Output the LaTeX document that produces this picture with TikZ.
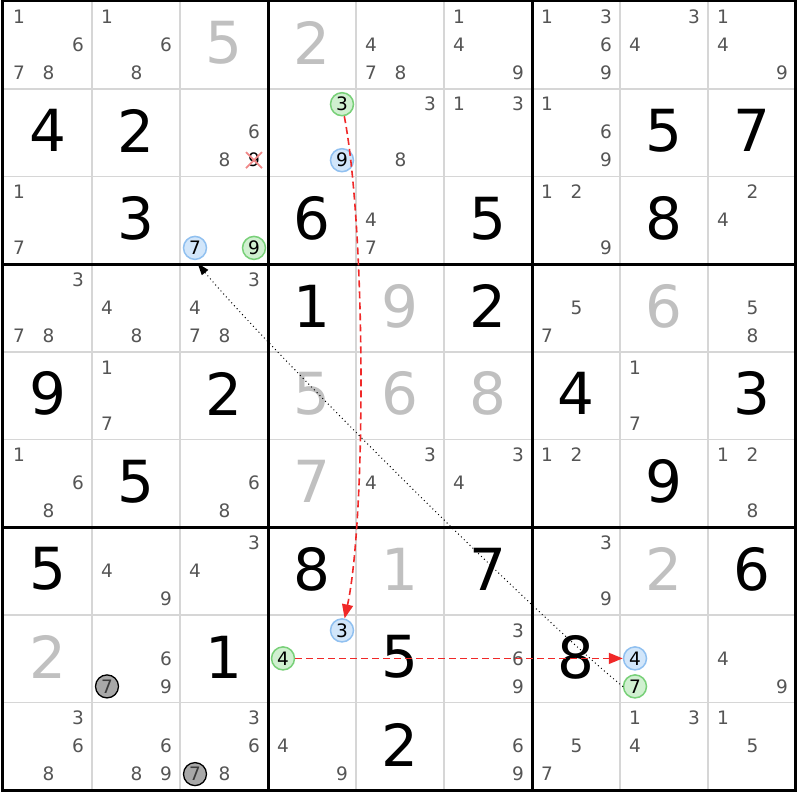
\documentclass[tikz,border=0pt]{standalone}
\usepackage{fontspec}
\setmainfont{DejaVu Sans}
\usetikzlibrary{arrows.meta}
\definecolor{pencol}{HTML}{555555}
\definecolor{givencol}{HTML}{C0C0C0}
\definecolor{thincol}{HTML}{D6D6D6}
\definecolor{bluefill}{HTML}{D2E6FA}
\definecolor{blueline}{HTML}{90C0F0}
\definecolor{greenfill}{HTML}{D0F0D0}
\definecolor{greenline}{HTML}{78D078}
\definecolor{linkred}{HTML}{F02828}
\definecolor{xred}{HTML}{F08888}
\definecolor{elimfill}{HTML}{A8A8A8}
\newcommand\pencil[3]{%
  \foreach \d in {#3}{%
    \pgfmathtruncatemacro\cc{mod(\d-1,3)}%
    \pgfmathtruncatemacro\rr{floor((\d-1)/3)}%
    \node[pen] (p#1#2\d) at ({19+88*(#2-1)+29.5*\cc},{16.5+87.7*(#1-1)+28*\rr}) {\d};%
  }}
\newcommand\hpen[5]{%
  \pgfmathtruncatemacro\cc{mod(#3-1,3)}%
  \pgfmathtruncatemacro\rr{floor((#3-1)/3)}%
  \node[#4] (#5) at ({19+88*(#2-1)+29.5*\cc},{16.5+87.7*(#1-1)+28*\rr}) {#3};}
\newcommand\solvd[3]{\node[solvedd] (s#1#2) at ({48+88*(#2-1)},{43+87.7*(#1-1)}) {#3};}
\newcommand\givn[3]{\node[givend] (g#1#2) at ({48+88*(#2-1)},{43+87.7*(#1-1)}) {#3};}
\begin{document}
\begin{tikzpicture}[x=1pt,y=-1pt,
  penfont/.style={font=\fontsize{18.5}{19}\selectfont},
  pen/.style={penfont, text=pencol, inner sep=0pt},
  penblack/.style={penfont, text=black, inner sep=0pt},
  hlc/.style={circle, penfont, text=black, line width=1.5pt, minimum size=23pt, inner sep=0pt},
  bluec/.style={hlc, draw=blueline, fill=bluefill},
  greenc/.style={hlc, draw=greenline, fill=greenfill},
  elim/.style={hlc, draw=black, fill=elimfill, line width=1.3pt, text=pencol!70!black},
  solvedd/.style={font=\fontsize{58}{58}\selectfont, inner sep=0pt, text=black},
  givend/.style={font=\fontsize{58}{58}\selectfont, inner sep=0pt, text=givencol},
  thinline/.style={draw=thincol, line width=1.6pt},
  thickline/.style={draw=black, line width=3pt},
  redlink/.style={draw=linkred, line width=1.6pt, dash pattern=on 7pt off 4pt, -{Triangle[length=14pt,width=11pt,fill=linkred]}},
  dotlink/.style={draw=black, line width=1.4pt, line cap=round, dash pattern=on 0pt off 4pt, -{Triangle[length=12pt,width=8pt]}},
  xmark/.style={draw=xred, line width=1.8pt}]
\fill[white] (0,0) rectangle (800,800);
\useasboundingbox (0,0) rectangle (800,800);
% grid
\foreach \k in {1,2,4,5,7,8}{%
  \draw[thinline] ({4+88*\k},1) -- ({4+88*\k},790.5);
  \draw[thinline] (2.5,{1+87.7*\k}) -- (795.5,{1+87.7*\k});}
\foreach \k in {3,6}{%
  \draw[thickline] ({4+88*\k},1) -- ({4+88*\k},790.5);
  \draw[thickline] (2.5,{1+87.7*\k}) -- (795.5,{1+87.7*\k});}
\draw[thickline] (2.5,1) rectangle (795.5,790.5);
% row 1
\pencil{1}{1}{1,6,7,8}
\pencil{1}{2}{1,6,8}
\givn{1}{3}{5}
\givn{1}{4}{2}
\pencil{1}{5}{4,7,8}
\pencil{1}{6}{1,4,9}
\pencil{1}{7}{1,3,6,9}
\pencil{1}{8}{3,4}
\pencil{1}{9}{1,4,9}
% row 2
\solvd{2}{1}{4}
\solvd{2}{2}{2}
\pencil{2}{3}{6,8}
\hpen{2}{3}{9}{penblack}{x9}
\hpen{2}{4}{3}{greenc}{ga}
\hpen{2}{4}{9}{bluec}{bb}
\pencil{2}{5}{3,8}
\pencil{2}{6}{1,3}
\pencil{2}{7}{1,6,9}
\solvd{2}{8}{5}
\solvd{2}{9}{7}
% row 3
\pencil{3}{1}{1,7}
\solvd{3}{2}{3}
\hpen{3}{3}{7}{bluec}{bseven}
\hpen{3}{3}{9}{greenc}{gnine}
\solvd{3}{4}{6}
\pencil{3}{5}{4,7}
\solvd{3}{6}{5}
\pencil{3}{7}{1,2,9}
\solvd{3}{8}{8}
\pencil{3}{9}{2,4}
% row 4
\pencil{4}{1}{3,7,8}
\pencil{4}{2}{4,8}
\pencil{4}{3}{3,4,7,8}
\solvd{4}{4}{1}
\givn{4}{5}{9}
\solvd{4}{6}{2}
\pencil{4}{7}{5,7}
\givn{4}{8}{6}
\pencil{4}{9}{5,8}
% row 5
\solvd{5}{1}{9}
\pencil{5}{2}{1,7}
\solvd{5}{3}{2}
\givn{5}{4}{5}
\givn{5}{5}{6}
\givn{5}{6}{8}
\solvd{5}{7}{4}
\pencil{5}{8}{1,7}
\solvd{5}{9}{3}
% row 6
\pencil{6}{1}{1,6,8}
\solvd{6}{2}{5}
\pencil{6}{3}{6,8}
\givn{6}{4}{7}
\pencil{6}{5}{3,4}
\pencil{6}{6}{3,4}
\pencil{6}{7}{1,2}
\solvd{6}{8}{9}
\pencil{6}{9}{1,2,8}
% row 7
\solvd{7}{1}{5}
\pencil{7}{2}{4,9}
\pencil{7}{3}{3,4}
\solvd{7}{4}{8}
\givn{7}{5}{1}
\solvd{7}{6}{7}
\pencil{7}{7}{3,9}
\givn{7}{8}{2}
\solvd{7}{9}{6}
% row 8
\givn{8}{1}{2}
\pencil{8}{2}{6,9}
\hpen{8}{2}{7}{elim}{ea}
\solvd{8}{3}{1}
\hpen{8}{4}{3}{bluec}{bthree}
\hpen{8}{4}{4}{greenc}{gfour}
\solvd{8}{5}{5}
\pencil{8}{6}{3,6,9}
\solvd{8}{7}{8}
\hpen{8}{8}{4}{bluec}{bfour}
\hpen{8}{8}{7}{greenc}{gseven}
\pencil{8}{9}{4,9}
% row 9
\pencil{9}{1}{3,6,8}
\pencil{9}{2}{6,8,9}
\pencil{9}{3}{3,6,8}
\hpen{9}{3}{7}{elim}{eb}
\pencil{9}{4}{4,9}
\solvd{9}{5}{2}
\pencil{9}{6}{6,9}
\pencil{9}{7}{5,7}
\pencil{9}{8}{1,3,4}
\pencil{9}{9}{1,5}
% elimination cross
\draw[xmark] ([shift={(-8,-8)}]x9.center) -- ([shift={(8,8)}]x9.center);
\draw[xmark] ([shift={(8,-8)}]x9.center) -- ([shift={(-8,8)}]x9.center);
% links
\draw[redlink] (ga) .. controls (366,230) and (366,520) .. (bthree);
\draw[redlink] (gfour) -- (bfour);
\draw[dotlink, shorten >=4pt] (gseven.west) .. controls (540,620) and (260,340) .. (bseven.south);
\end{tikzpicture}
\end{document}
